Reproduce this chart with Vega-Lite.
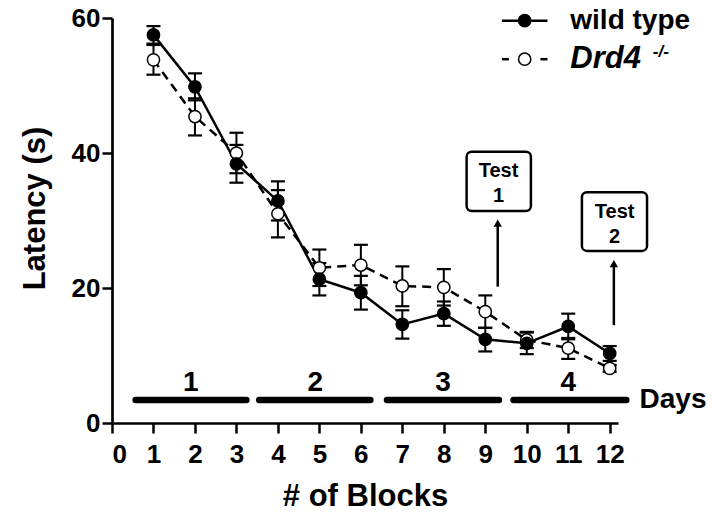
{
  "$schema": "https://vega.github.io/schema/vega-lite/v6.json",
  "width": 506,
  "height": 405,
  "autosize": "none",
  "padding": {"left": 112, "top": 18, "right": 94, "bottom": 95},
  "background": "white",
  "config": {
    "view": {"stroke": null},
    "font": "Liberation Sans",
    "axis": {
      "domainColor": "black", "domainWidth": 2.7, "tickColor": "black", "tickWidth": 2.5,
      "tickSize": 10, "labelFont": "Liberation Sans", "labelFontWeight": "bold",
      "labelFontSize": 26, "labelColor": "black", "titleFont": "Liberation Sans",
      "titleFontWeight": "bold", "titleFontSize": 31, "titleColor": "black", "grid": false
    }
  },
  "datasets": {
    "series": [
      {"block": 1, "group": "wild type", "mean": 57.5, "lo": 56.2, "hi": 58.8},
      {"block": 2, "group": "wild type", "mean": 49.8, "lo": 47.8, "hi": 51.8},
      {"block": 3, "group": "wild type", "mean": 38.4, "lo": 35.6, "hi": 41.2},
      {"block": 4, "group": "wild type", "mean": 32.9, "lo": 30.0, "hi": 35.8},
      {"block": 5, "group": "wild type", "mean": 21.3, "lo": 18.9, "hi": 23.7},
      {"block": 6, "group": "wild type", "mean": 19.3, "lo": 16.8, "hi": 21.8},
      {"block": 7, "group": "wild type", "mean": 14.6, "lo": 12.5, "hi": 16.7},
      {"block": 8, "group": "wild type", "mean": 16.2, "lo": 14.4, "hi": 18.0},
      {"block": 9, "group": "wild type", "mean": 12.4, "lo": 10.6, "hi": 14.1},
      {"block": 10, "group": "wild type", "mean": 11.8, "lo": 10.2, "hi": 13.4},
      {"block": 11, "group": "wild type", "mean": 14.3, "lo": 12.4, "hi": 16.2},
      {"block": 12, "group": "wild type", "mean": 10.3, "lo": 9.2, "hi": 11.4},
      {"block": 1, "group": "Drd4", "mean": 53.8, "lo": 51.6, "hi": 56.0},
      {"block": 2, "group": "Drd4", "mean": 45.4, "lo": 42.6, "hi": 48.1},
      {"block": 3, "group": "Drd4", "mean": 40.0, "lo": 37.0, "hi": 43.0},
      {"block": 4, "group": "Drd4", "mean": 31.0, "lo": 27.5, "hi": 34.5},
      {"block": 5, "group": "Drd4", "mean": 23.0, "lo": 20.3, "hi": 25.7},
      {"block": 6, "group": "Drd4", "mean": 23.4, "lo": 20.4, "hi": 26.4},
      {"block": 7, "group": "Drd4", "mean": 20.3, "lo": 17.3, "hi": 23.2},
      {"block": 8, "group": "Drd4", "mean": 20.1, "lo": 17.4, "hi": 22.8},
      {"block": 9, "group": "Drd4", "mean": 16.5, "lo": 14.1, "hi": 18.9},
      {"block": 10, "group": "Drd4", "mean": 12.3, "lo": 11.1, "hi": 13.5},
      {"block": 11, "group": "Drd4", "mean": 11.1, "lo": 9.5, "hi": 12.6},
      {"block": 12, "group": "Drd4", "mean": 8.1, "lo": 7.6, "hi": 8.6}
    ],
    "days": [
      {"day": "1", "start": 0.57, "end": 3.24, "mid": 1.9, "y": 3.4, "ly": 4.7},
      {"day": "2", "start": 3.55, "end": 6.23, "mid": 4.9, "y": 3.4, "ly": 4.7},
      {"day": "3", "start": 6.63, "end": 9.33, "mid": 7.98, "y": 3.4, "ly": 4.7},
      {"day": "4", "start": 9.68, "end": 12.4, "mid": 11.0, "y": 3.4, "ly": 4.7}
    ],
    "boxes": [
      {"test": "1", "x1": 8.55, "x2": 10.1, "y1": 31.4, "y2": 40.2, "xm": 9.32, "ty": 37.3, "ny": 33.6, "ax": 9.3, "ab": 20.2, "at": 29.2, "ah": 29.6},
      {"test": "2", "x1": 11.33, "x2": 12.9, "y1": 25.5, "y2": 34.2, "xm": 12.12, "ty": 31.3, "ny": 27.6, "ax": 12.1, "ab": 14.5, "at": 23.2, "ah": 23.6}
    ],
    "legendLines": [
      {"group": "wild type", "x1": 9.4, "x2": 10.5, "y": 59.6},
      {"group": "Drd4", "x1": 9.4, "x2": 9.57, "y": 53.9},
      {"group": "Drd4", "x1": 10.33, "x2": 10.5, "y": 53.9}
    ],
    "legendPts": [
      {"group": "wild type", "x": 9.95, "y": 59.6, "label": "wild type", "tx": 11.05},
      {"group": "Drd4", "x": 9.95, "y": 53.9, "label": "Drd4", "tx": 11.05}
    ],
    "sup": [{"x": 13.04, "y": 55.0, "label": "-/-"}],
    "daysLabel": [{"x": 12.72, "y": 3.4, "label": "Days"}]
  },
  "layer": [
    {
      "data": {"name": "days"},
      "mark": {"type": "rule", "strokeWidth": 6.5, "strokeCap": "round", "color": "black"},
      "encoding": {
        "x": {"field": "start", "type": "quantitative", "scale": {"domain": [0, 12.2], "nice": false, "zero": false},
          "axis": {"values": [0,1,2,3,4,5,6,7,8,9,10,11,12], "title": "# of Blocks", "titlePadding": 14, "labelPadding": 8}},
        "x2": {"field": "end"},
        "y": {"field": "y", "type": "quantitative", "scale": {"domain": [0, 60], "nice": false},
          "axis": {"values": [0, 20, 40, 60], "title": "Latency (s)", "titlePadding": 20, "labelPadding": 2, "titleY": 190}}
      }
    },
    {
      "data": {"name": "days"},
      "mark": {"type": "text", "fontSize": 28, "fontWeight": "bold", "baseline": "alphabetic", "color": "black"},
      "encoding": {
        "x": {"field": "mid", "type": "quantitative"},
        "y": {"field": "ly", "type": "quantitative", "title": "Latency (s)"},
        "text": {"field": "day"}
      }
    },
    {
      "data": {"name": "daysLabel"},
      "mark": {"type": "text", "fontSize": 28, "fontWeight": "bold", "align": "left", "baseline": "middle", "color": "black"},
      "encoding": {
        "x": {"field": "x", "type": "quantitative"},
        "y": {"field": "y", "type": "quantitative", "title": "Latency (s)"},
        "text": {"field": "label"}
      }
    },
    {
      "data": {"name": "boxes"},
      "mark": {"type": "rule", "strokeWidth": 2.5, "color": "black"},
      "encoding": {
        "x": {"field": "ax", "type": "quantitative"},
        "y": {"field": "ab", "type": "quantitative", "title": "Latency (s)"},
        "y2": {"field": "at"}
      }
    },
    {
      "data": {"name": "boxes"},
      "mark": {"type": "point", "shape": "triangle-up", "filled": true, "size": 70, "color": "black", "opacity": 1},
      "encoding": {
        "x": {"field": "ax", "type": "quantitative"},
        "y": {"field": "ah", "type": "quantitative", "title": "Latency (s)"}
      }
    },
    {
      "data": {"name": "boxes"},
      "mark": {"type": "rect", "fill": "white", "stroke": "black", "strokeWidth": 2.5, "cornerRadius": 5},
      "encoding": {
        "x": {"field": "x1", "type": "quantitative"},
        "x2": {"field": "x2"},
        "y": {"field": "y1", "type": "quantitative", "title": "Latency (s)"},
        "y2": {"field": "y2"}
      }
    },
    {
      "data": {"name": "boxes"},
      "mark": {"type": "text", "fontSize": 20, "fontWeight": "bold", "baseline": "middle", "color": "black"},
      "encoding": {
        "x": {"field": "xm", "type": "quantitative"},
        "y": {"field": "ty", "type": "quantitative", "title": "Latency (s)"},
        "text": {"value": "Test"}
      }
    },
    {
      "data": {"name": "boxes"},
      "mark": {"type": "text", "fontSize": 20, "fontWeight": "bold", "baseline": "middle", "color": "black"},
      "encoding": {
        "x": {"field": "xm", "type": "quantitative"},
        "y": {"field": "ny", "type": "quantitative", "title": "Latency (s)"},
        "text": {"field": "test"}
      }
    },
    {
      "data": {"name": "series"},
      "mark": {"type": "rule", "color": "black", "strokeWidth": 2, "opacity": 1},
      "encoding": {
        "x": {"field": "block", "type": "quantitative"},
        "y": {"field": "lo", "type": "quantitative", "title": "Latency (s)"},
        "y2": {"field": "hi"}
      }
    },
    {
      "data": {"name": "series"},
      "mark": {"type": "tick", "orient": "horizontal", "color": "black", "size": 14, "thickness": 2.2, "opacity": 1},
      "encoding": {
        "x": {"field": "block", "type": "quantitative"},
        "y": {"field": "lo", "type": "quantitative", "title": "Latency (s)"}
      }
    },
    {
      "data": {"name": "series"},
      "mark": {"type": "tick", "orient": "horizontal", "color": "black", "size": 14, "thickness": 2.2, "opacity": 1},
      "encoding": {
        "x": {"field": "block", "type": "quantitative"},
        "y": {"field": "hi", "type": "quantitative", "title": "Latency (s)"}
      }
    },
    {
      "data": {"name": "series"},
      "transform": [{"filter": "datum.group === 'Drd4'"}],
      "mark": {"type": "line", "color": "black", "strokeWidth": 2.5, "strokeDash": [9, 6]},
      "encoding": {
        "x": {"field": "block", "type": "quantitative"},
        "y": {"field": "mean", "type": "quantitative", "title": "Latency (s)"}
      }
    },
    {
      "data": {"name": "series"},
      "transform": [{"filter": "datum.group === 'wild type'"}],
      "mark": {"type": "line", "color": "black", "strokeWidth": 2.5},
      "encoding": {
        "x": {"field": "block", "type": "quantitative"},
        "y": {"field": "mean", "type": "quantitative", "title": "Latency (s)"}
      }
    },
    {
      "data": {"name": "series"},
      "transform": [{"filter": "datum.group === 'Drd4'"}],
      "mark": {"type": "point", "shape": "circle", "filled": true, "fill": "white", "stroke": "black", "strokeWidth": 1.5, "size": 150, "opacity": 1},
      "encoding": {
        "x": {"field": "block", "type": "quantitative"},
        "y": {"field": "mean", "type": "quantitative", "title": "Latency (s)"}
      }
    },
    {
      "data": {"name": "series"},
      "transform": [{"filter": "datum.group === 'wild type'"}],
      "mark": {"type": "point", "shape": "circle", "filled": true, "fill": "black", "stroke": "black", "strokeWidth": 1.5, "size": 150, "opacity": 1},
      "encoding": {
        "x": {"field": "block", "type": "quantitative"},
        "y": {"field": "mean", "type": "quantitative", "title": "Latency (s)"}
      }
    },
    {
      "data": {"name": "legendLines"},
      "mark": {"type": "rule", "strokeWidth": 2.5, "color": "black"},
      "encoding": {
        "x": {"field": "x1", "type": "quantitative"},
        "x2": {"field": "x2"},
        "y": {"field": "y", "type": "quantitative", "title": "Latency (s)"}
      }
    },
    {
      "data": {"name": "legendPts"},
      "mark": {"type": "point", "shape": "circle", "filled": true, "stroke": "black", "strokeWidth": 1.5, "size": 150, "opacity": 1},
      "encoding": {
        "x": {"field": "x", "type": "quantitative"},
        "y": {"field": "y", "type": "quantitative", "title": "Latency (s)"},
        "fill": {"field": "group", "type": "nominal", "scale": {"domain": ["wild type", "Drd4"], "range": ["black", "white"]}, "legend": null}
      }
    },
    {
      "data": {"name": "legendPts"},
      "transform": [{"filter": "datum.group === 'wild type'"}],
      "mark": {"type": "text", "fontSize": 28, "fontWeight": "bold", "align": "left", "baseline": "middle", "color": "black"},
      "encoding": {
        "x": {"field": "tx", "type": "quantitative"},
        "y": {"field": "y", "type": "quantitative", "title": "Latency (s)"},
        "text": {"field": "label"}
      }
    },
    {
      "data": {"name": "legendPts"},
      "transform": [{"filter": "datum.group === 'Drd4'"}],
      "mark": {"type": "text", "fontSize": 31, "fontWeight": "bold", "fontStyle": "italic", "align": "left", "baseline": "middle", "color": "black"},
      "encoding": {
        "x": {"field": "tx", "type": "quantitative"},
        "y": {"field": "y", "type": "quantitative", "title": "Latency (s)"},
        "text": {"field": "label"}
      }
    },
    {
      "data": {"name": "sup"},
      "mark": {"type": "text", "fontSize": 17, "fontWeight": "bold", "fontStyle": "italic", "align": "left", "baseline": "middle", "color": "black"},
      "encoding": {
        "x": {"field": "x", "type": "quantitative"},
        "y": {"field": "y", "type": "quantitative", "title": "Latency (s)"},
        "text": {"field": "label"}
      }
    }
  ]
}
